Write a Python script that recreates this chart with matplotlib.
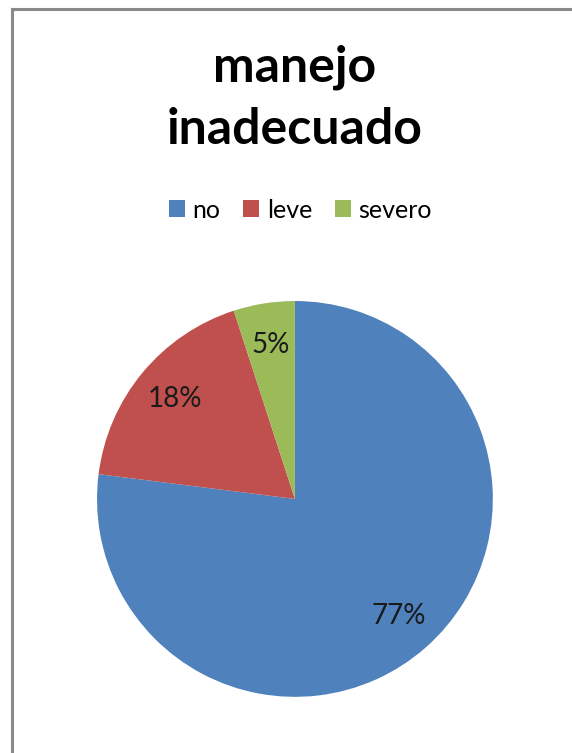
import matplotlib
matplotlib.use("Agg")
import matplotlib.pyplot as plt
from matplotlib.lines import Line2D

# Data
categories = ["no", "leve", "severo"]
values = [77, 18, 5]
colors = ["#4F81BD", "#C0504D", "#9BBB59"]
title_lines = ["manejo", "inadecuado"]

plt.rcParams['font.family'] = ['Lato', 'DejaVu Sans']

fig = plt.figure(figsize=(5.72, 7.53), dpi=100)

# Pie axes (square in pixels)
ax = fig.add_axes([0.1696, 0.0744, 0.692, 0.526])
wedges, texts, autotexts = ax.pie(values, colors=colors, startangle=90,
                                  counterclock=False, autopct='%1.0f%%',
                                  pctdistance=0.79, radius=1,
                                  textprops={'fontsize': 20, 'color': '#1a1a1a'})
ax.set_xlim(-1, 1)
ax.set_ylim(-1, 1)
ax.set_aspect('equal')
ax.axis('off')

# Title
fig.text(0.515, 1 - 82 / 753, title_lines[0], ha='center', va='baseline',
         fontsize=36, fontweight='bold')
fig.text(0.515, 1 - 144 / 753, title_lines[1], ha='center', va='baseline',
         fontsize=36, fontweight='bold')

# Legend
fig.legend(wedges, categories, loc='center', bbox_to_anchor=(0.525, 1 - 210 / 753),
           ncol=3, frameon=False, fontsize=18, handlelength=0.65,
           handleheight=0.65, handletextpad=0.3, columnspacing=0.9)

# Frame (top and left edges of the chart area)
fig.add_artist(Line2D([12 / 572, 1], [1 - 9 / 753, 1 - 9 / 753],
                      transform=fig.transFigure, color='#8a8a8a', lw=2.2))
fig.add_artist(Line2D([12 / 572, 12 / 572], [0, 1 - 9 / 753],
                      transform=fig.transFigure, color='#8a8a8a', lw=2.2))

fig.savefig("out.png", dpi=100)
